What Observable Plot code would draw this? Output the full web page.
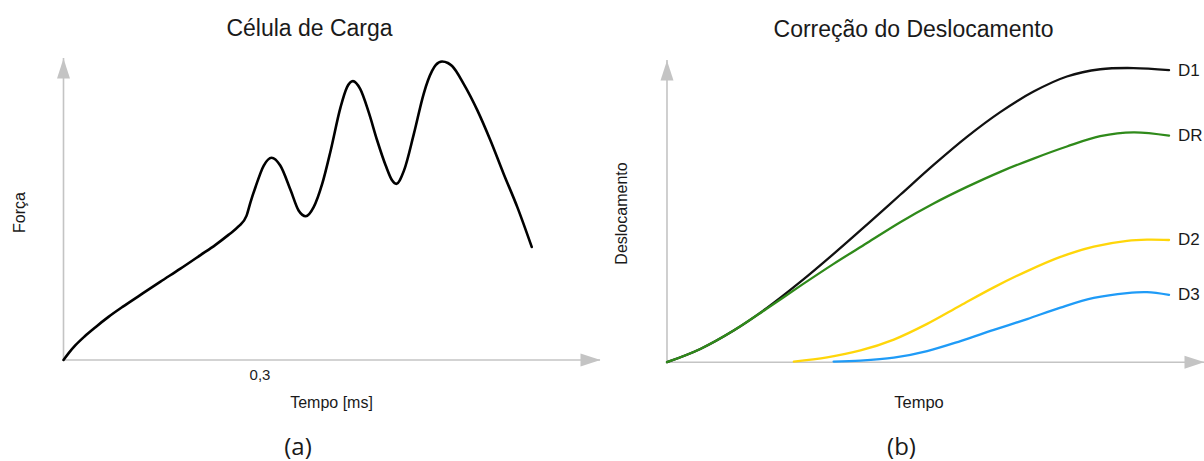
<!DOCTYPE html>
<html>
<head>
<meta charset="utf-8">
<script src="https://cdn.jsdelivr.net/npm/d3@7"></script>
<script src="https://cdn.jsdelivr.net/npm/@observablehq/plot@0.6"></script>
<style>
  html, body { margin: 0; padding: 0; background: #fff; }
  #fig { display: flex; width: 1204px; height: 461px; overflow: hidden; }
  #fig svg { display: block; flex: none; }
</style>
</head>
<body>
<div id="fig"></div>
<script>
// ---- (a) Load cell: force vs time (ms) ----
const forceTime = [0, 0.0076, 0.0183, 0.0321, 0.0489, 0.0687, 0.0901, 0.1176, 0.1481, 0.1786, 0.2092, 0.2321,
  0.2519, 0.2672, 0.2794, 0.2855, 0.2931, 0.3058, 0.3176, 0.331, 0.347, 0.359, 0.370, 0.382, 0.395, 0.408,
  0.423, 0.433, 0.442, 0.453, 0.466, 0.479, 0.492, 0.502, 0.508, 0.520, 0.535, 0.550, 0.5565, 0.5628, 0.5686,
  0.578, 0.5870, 0.5934, 0.611, 0.632, 0.652, 0.672, 0.693, 0.715];
const forceValue = [0, 2.2, 4.9, 7.8, 10.9, 14.3, 17.6, 21.6, 26.0, 30.3, 34.8, 38.2,
  41.5, 44.3, 47.8, 52.3, 57.3, 64.5, 67.1, 64.5, 56.2, 49.6, 47.7, 50.7, 58.4, 69.5,
  83.8, 90.5, 92.5, 89.9, 82.2, 72.8, 64.5, 59.5, 58.4, 62.9, 75.0, 88.3, 92.7, 95.9, 97.9,
  99.0, 98.5, 97.5, 91.6, 82.8, 72.8, 61.8, 50.7, 37.5];
const forceTicks = [0.3];
const forceTickLabels = ["0,3"];

// ---- (b) Displacement correction: four series vs time ----
const seriesNames = ["D1", "DR", "D2", "D3"];
const seriesColors = ["#111111", "#2f8a1a", "#ffd60a", "#1f9bf7"];
const d1Time = [0, 6.2, 12.4, 18.6, 24.8, 31.0, 37.2, 43.4, 49.6, 55.8, 62.0, 68.2, 74.4, 80.6, 86.8, 93.4];
const d1Value = [0, 4.4, 10.5, 18.0, 26.6, 35.9, 45.6, 55.5, 65.4, 74.7, 82.9, 89.7, 94.7, 97.1, 97.5, 96.8];
const drTime = [0, 6.2, 12.4, 18.6, 24.8, 31.0, 37.2, 43.4, 49.6, 55.8, 62.0, 68.2, 74.4, 80.6, 86.8, 93.4];
const drValue = [0, 4.4, 10.5, 17.8, 25.3, 32.6, 39.5, 46.4, 52.6, 58.1, 63.1, 67.5, 71.5, 74.9, 76.2, 75.1];
const d2Time = [23.6, 29.8, 36.0, 42.2, 48.4, 54.6, 60.8, 67.0, 73.2, 79.4, 85.6, 89.3, 93.4];
const d2Value = [0.2, 1.6, 3.9, 7.5, 12.7, 18.8, 24.8, 30.2, 34.9, 38.3, 40.2, 40.6, 40.5];
const d3Time = [31.0, 36.0, 42.2, 48.4, 54.6, 60.8, 67.0, 73.2, 79.4, 85.6, 89.3, 93.4];
const d3Value = [0.2, 0.5, 1.5, 3.7, 7.0, 10.7, 14.3, 18.1, 21.3, 22.9, 23.2, 22.3];

// ---- shared styling ----
const axisColor = "#c4c4c4";
const textColor = "#1a1a1a";
const fontFamily = "'Liberation Sans', Arial, Helvetica, sans-serif";

// Filled arrowhead pointing up, tip at the symbol origin
const arrowHead = {
  draw(ctx) {
    ctx.moveTo(0, 0);
    ctx.lineTo(6.5, 20);
    ctx.lineTo(-6.5, 20);
    ctx.closePath();
  }
};

function axesWithArrows(xMax, yMax) {
  return [
    Plot.ruleX([0], {y1: 0, y2: yMax, stroke: axisColor, strokeWidth: 1.6}),
    Plot.ruleY([0], {x1: 0, x2: xMax, stroke: axisColor, strokeWidth: 1.6}),
    Plot.dot([{x: 0, y: yMax}], {x: "x", y: "y", symbol: arrowHead, fill: axisColor, stroke: "none"}),
    Plot.dot([{x: xMax, y: 0}], {x: "x", y: "y", symbol: arrowHead, rotate: 90, fill: axisColor, stroke: "none"})
  ];
}

function frameText(str, opts) {
  return Plot.text([str], {text: (d) => d, fill: textColor, ...opts});
}

// ---- panel (a) ----
const force = forceTime.map((t, i) => ({t, f: forceValue[i]}));
const leftXMax = 0.82, leftYMax = 100;

const left = Plot.plot({
  width: 602,
  height: 461,
  marginLeft: 63,
  marginRight: 2,
  marginTop: 58,
  marginBottom: 101.5,
  x: {domain: [0, leftXMax]},
  y: {domain: [0, leftYMax], axis: null},
  style: {fontFamily, background: "#fff", overflow: "visible"},
  marks: [
    ...axesWithArrows(leftXMax, leftYMax),
    Plot.axisX(forceTicks, {
      tickSize: 0,
      tickPadding: 9,
      tickFormat: (d) => forceTickLabels[forceTicks.indexOf(d)],
      fontSize: 15,
      fill: "#222",
      label: null
    }),
    Plot.line(force, {x: "t", y: "f", stroke: "#000", strokeWidth: 2.6, curve: "monotone-x"}),
    frameText("Célula de Carga", {frameAnchor: "top-left", textAnchor: "middle", lineAnchor: "bottom",
      dx: 309 - 63, dy: 35.5 - 58, fontSize: 23}),
    frameText("Força", {frameAnchor: "top-left", textAnchor: "middle", lineAnchor: "middle", rotate: -90,
      dx: 19 - 63, dy: 212 - 58, fontSize: "16px"}),
    frameText("Tempo [ms]", {frameAnchor: "top-left", textAnchor: "middle", lineAnchor: "middle",
      dx: 331 - 63, dy: 402 - 58, fontSize: 16}),
    frameText("(a)", {frameAnchor: "top-left", textAnchor: "middle", lineAnchor: "bottom",
      dx: 297.5 - 63, dy: 454 - 58, fontSize: 24, fontFamily: "'Open Sans', Lato, sans-serif"})
  ]
});

// ---- panel (b) ----
const seriesTimes = [d1Time, drTime, d2Time, d3Time];
const seriesValues = [d1Value, drValue, d2Value, d3Value];
const disp = seriesNames.flatMap((name, k) =>
  seriesTimes[k].map((t, i) => ({name, t, v: seriesValues[k][i]}))
);
const endPoints = seriesNames.map((name, k) => ({
  name,
  t: seriesTimes[k][seriesTimes[k].length - 1],
  v: seriesValues[k][seriesValues[k].length - 1]
}));
const rightXMax = 100, rightYMax = 100;

const right = Plot.plot({
  width: 602,
  height: 461,
  marginLeft: 64.5,
  marginRight: 0,
  marginTop: 60,
  marginBottom: 99.3,
  x: {domain: [0, rightXMax], axis: null},
  y: {domain: [0, rightYMax], axis: null},
  color: {domain: seriesNames, range: seriesColors},
  style: {fontFamily, background: "#fff", overflow: "visible"},
  marks: [
    ...axesWithArrows(rightXMax, rightYMax),
    Plot.line(disp, {x: "t", y: "v", z: "name", stroke: "name", strokeWidth: 2.3, curve: "catmull-rom"}),
    Plot.text(endPoints, {x: "t", y: "v", text: "name", dx: 9, textAnchor: "start", lineAnchor: "middle",
      fontSize: 17, fill: textColor}),
    frameText("Correção do Deslocamento", {frameAnchor: "top-left", textAnchor: "middle", lineAnchor: "bottom",
      dx: 311 - 64.5, dy: 36 - 60, fontSize: 23}),
    frameText("Deslocamento", {frameAnchor: "top-left", textAnchor: "middle", lineAnchor: "middle", rotate: -90,
      dx: 19 - 64.5, dy: 213 - 60, fontSize: "16px"}),
    frameText("Tempo", {frameAnchor: "top-left", textAnchor: "middle", lineAnchor: "middle",
      dx: 316.5 - 64.5, dy: 402 - 60, fontSize: 16.5}),
    frameText("(b)", {frameAnchor: "top-left", textAnchor: "middle", lineAnchor: "bottom",
      dx: 299 - 64.5, dy: 454 - 60, fontSize: 24, fontFamily: "'Open Sans', Lato, sans-serif"})
  ]
});

const fig = document.getElementById("fig");
fig.appendChild(left);
fig.appendChild(right);
</script>
</body>
</html>
